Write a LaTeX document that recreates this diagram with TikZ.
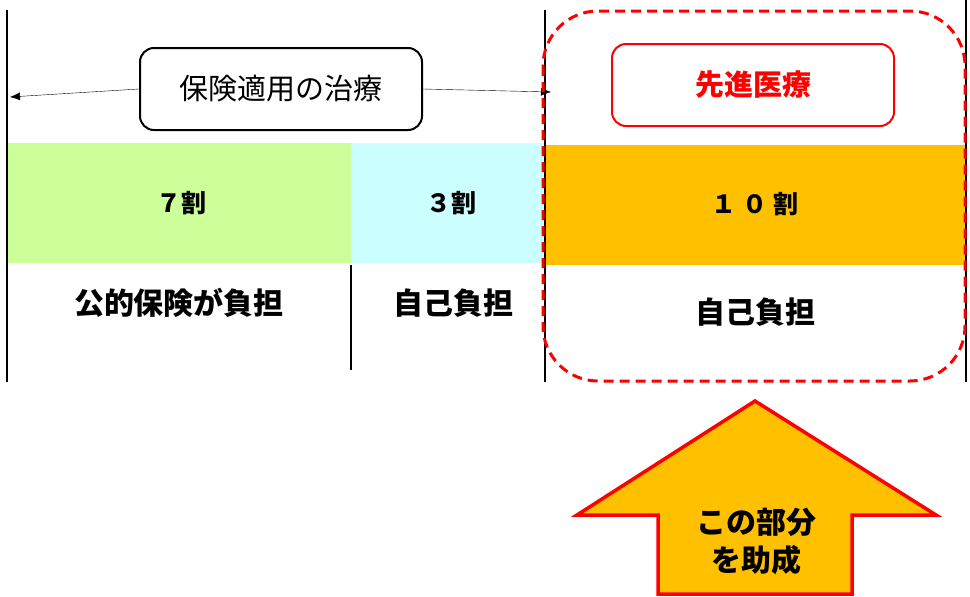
\documentclass[tikz,border=0pt]{standalone}
\usepackage{fontspec}
\setmainfont{Noto Sans CJK JP}
\usetikzlibrary{arrows.meta}
\definecolor{kogreen}{RGB}{204,255,153}
\definecolor{kocyan}{RGB}{204,255,255}
\definecolor{koorange}{RGB}{255,192,0}

\begin{document}
\begin{tikzpicture}[x=1pt,y=-1pt,
  every node/.style={font=\fontsize{29}{32}\selectfont},
  bar/.style={line width=2pt},
  tag/.style={font=\fontsize{30}{34}\selectfont\bfseries},
  waribox/.style={font=\fontsize{25}{30}\selectfont\bfseries},
  titlebox/.style={draw,line width=2pt,rounded corners=14pt,
    minimum width=282pt,minimum height=82pt}]
  \useasboundingbox (0,0) rectangle (970,597);
  % colour bands
  \fill[kogreen] (7,143) rectangle (351,263);
  \fill[kocyan] (351,143) rectangle (545,263);
  \fill[koorange] (545,145) rectangle (966,265);
  % vertical lines
  \draw[bar] (7,10) -- (7,382);
  \draw[bar] (545,10) -- (545,382);
  \draw[bar] (966,0) -- (966,382);
  \draw[bar] (351,265) -- (351,370);
  % titles
  \node[titlebox] (hoken) at (281,89) {保険適用の治療};
  \node[titlebox,red,text=red,font=\fontsize{29}{32}\selectfont\bfseries]
    (senshin) at (753,85) {先進医療};
  \coordinate (hokenL) at (10,97);
  \coordinate (hokenR) at (551,92);
  \draw[-{Latex[length=10pt,width=8pt]}] (hoken.west) -- (hokenL);
  \draw[-{Latex[length=10pt,width=8pt]}] (hoken.east) -- (hokenR);
  % shares
  \node[waribox] (nana) at (181,203) {７割};
  \node[waribox] (san) at (451,203) {３割};
  \node[waribox] (juu) at (755,204) {１ ０ 割};
  \node[tag] (kouteki) at (179,303) {公的保険が負担};
  \node[tag] (jiko) at (453,303) {自己負担};
  \node[tag] (jikoB) at (755,312) {自己負担};
  % dashed frame
  \draw[red,line width=3pt,dash pattern=on 10pt off 6pt,rounded corners=55pt]
    (543,11) rectangle (965,381);
  % up arrow
  \draw[red,line width=3.5pt,fill=koorange,line join=miter]
    (755,401) -- (936,515) -- (852,515) -- (852,594) -- (658,594)
    -- (658,515) -- (577,515) -- cycle;
  \node[tag,align=center] (josei) at (756,541)
    {この部分\\[4pt]を助成};
\end{tikzpicture}
\end{document}
